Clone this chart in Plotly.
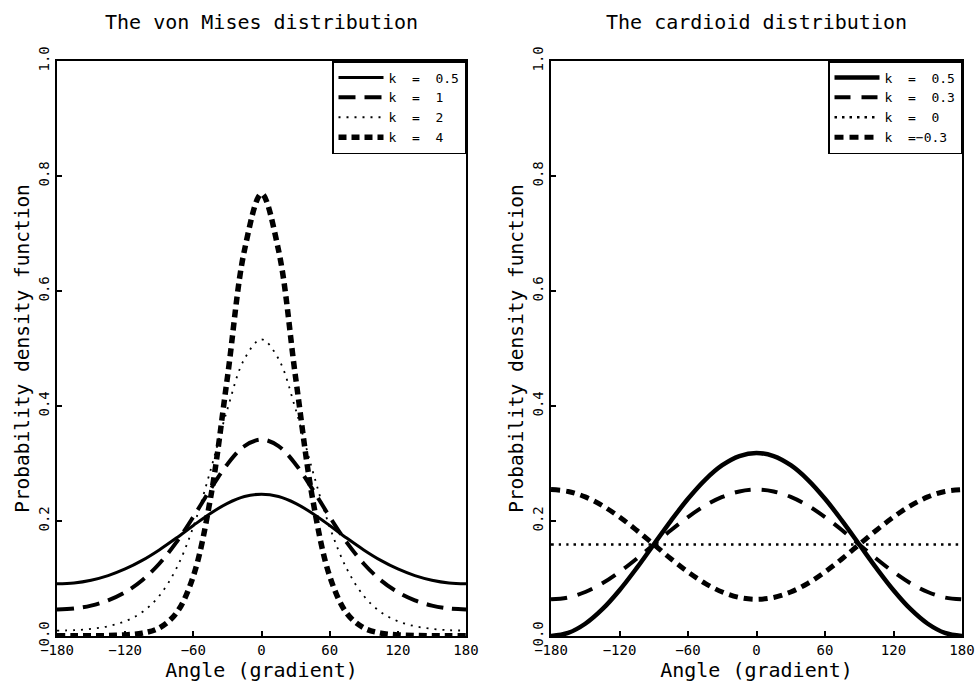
import plotly.graph_objects as go

angles = [-180, -165, -150, -135, -120, -105, -90, -75, -60, -45, -30, -15, 0,
          15, 30, 45, 60, 75, 90, 105, 120, 135, 150, 165, 180]

# von Mises densities
vm_k05 = [0.0908, 0.0923, 0.0971, 0.1051, 0.1166, 0.1315, 0.1497, 0.1703, 0.1922, 0.2131, 0.2307, 0.2426, 0.2467,
          0.2426, 0.2307, 0.2131, 0.1922, 0.1703, 0.1497, 0.1315, 0.1166, 0.1051, 0.0971, 0.0923, 0.0908]
vm_k1 = [0.0462, 0.0478, 0.0529, 0.0620, 0.0762, 0.0970, 0.1257, 0.1628, 0.2073, 0.2550, 0.2989, 0.3303, 0.3417,
         0.3303, 0.2989, 0.2550, 0.2073, 0.1628, 0.1257, 0.0970, 0.0762, 0.0620, 0.0529, 0.0478, 0.0462]
vm_k2 = [0.0094, 0.0101, 0.0124, 0.0170, 0.0257, 0.0416, 0.0698, 0.1172, 0.1898, 0.2872, 0.3946, 0.4819, 0.5159,
         0.4819, 0.3946, 0.2872, 0.1898, 0.1172, 0.0698, 0.0416, 0.0257, 0.0170, 0.0124, 0.0101, 0.0094]
vm_k4 = [0.0003, 0.0003, 0.0004, 0.0008, 0.0019, 0.0050, 0.0141, 0.0397, 0.1041, 0.2383, 0.4499, 0.6709, 0.7689,
         0.6709, 0.4499, 0.2383, 0.1041, 0.0397, 0.0141, 0.0050, 0.0019, 0.0008, 0.0004, 0.0003, 0.0003]

# cardioid densities
cd_k05 = [0.0000, 0.0054, 0.0213, 0.0466, 0.0796, 0.1180, 0.1592, 0.2003, 0.2387, 0.2717, 0.2970, 0.3129, 0.3183,
          0.3129, 0.2970, 0.2717, 0.2387, 0.2003, 0.1592, 0.1180, 0.0796, 0.0466, 0.0213, 0.0054, 0.0000]
cd_k03 = [0.0637, 0.0669, 0.0765, 0.0916, 0.1114, 0.1344, 0.1592, 0.1839, 0.2069, 0.2267, 0.2419, 0.2514, 0.2546,
          0.2514, 0.2419, 0.2267, 0.2069, 0.1839, 0.1592, 0.1344, 0.1114, 0.0916, 0.0765, 0.0669, 0.0637]
cd_k0 = [0.1592, 0.1592, 0.1592, 0.1592, 0.1592, 0.1592, 0.1592, 0.1592, 0.1592, 0.1592, 0.1592, 0.1592, 0.1592,
         0.1592, 0.1592, 0.1592, 0.1592, 0.1592, 0.1592, 0.1592, 0.1592, 0.1592, 0.1592, 0.1592, 0.1592]
cd_km03 = [0.2546, 0.2514, 0.2419, 0.2267, 0.2069, 0.1839, 0.1592, 0.1344, 0.1114, 0.0916, 0.0765, 0.0669, 0.0637,
           0.0669, 0.0765, 0.0916, 0.1114, 0.1344, 0.1592, 0.1839, 0.2069, 0.2267, 0.2419, 0.2514, 0.2546]

NB = "\u00a0"
vm_names = ["k = 0.5", "k = 1", "k = 2", "k = 4"]
cd_names = ["k = 0.5", "k = 0.3", "k = 0", "k =\u22120.3"]

x_ticks = [-180, -120, -60, 0, 60, 120, 180]
x_ticktext = ["\u2212180", "\u2212120", "\u221260", "0", "60", "120", "180"]
y_ticks = [0.0, 0.2, 0.4, 0.6, 0.8, 1.0]
y_ticktext = ["0.0", "0.2", "0.4", "0.6", "0.8", "1.0"]

FONT = "DejaVu Sans Mono"


def spaced(name):
    return name.replace(" ", NB + " ")


fig = go.Figure()

vm_styles = [dict(width=3, dash="solid"),
             dict(width=4, dash="17px,9px"),
             dict(width=1.8, dash="2px,6px"),
             dict(width=5.5, dash="8px,5px")]
for ys, nm, st in zip([vm_k05, vm_k1, vm_k2, vm_k4], vm_names, vm_styles):
    fig.add_trace(go.Scatter(x=angles, y=ys, name=spaced(nm), mode="lines",
                             line=dict(color="black", shape="spline", **st),
                             xaxis="x", yaxis="y", legend="legend"))

cd_styles = [dict(width=4.5, dash="solid"),
             dict(width=4, dash="16px,11px"),
             dict(width=2.5, dash="2.5px,5px"),
             dict(width=5, dash="9px,6px")]
for ys, nm, st in zip([cd_k05, cd_k03, cd_k0, cd_km03], cd_names, cd_styles):
    fig.add_trace(go.Scatter(x=angles, y=ys, name=spaced(nm), mode="lines",
                             line=dict(color="black", shape="spline", **st),
                             xaxis="x2", yaxis="y2", legend="legend2"))

L_DOM = [57 / 976, 466 / 976]
R_DOM = [551 / 976, 962 / 976]
Y_DOM = [(682 - 636) / 682, (682 - 61) / 682]

xcommon = dict(range=[-180, 180], tickvals=x_ticks, ticktext=x_ticktext,
               showline=True, mirror=True, linecolor="black", linewidth=2,
               ticks="inside", ticklen=5, tickcolor="black", tickwidth=1.5,
               showgrid=False, zeroline=False, automargin=False,
               ticklabeloverflow="allow",
               tickfont=dict(family=FONT, size=14, color="black"),
               title=dict(text="Angle (gradient)", font=dict(family=FONT, size=20, color="black"), standoff=10))
ycommon = dict(range=[0, 1.0], tickvals=y_ticks, ticktext=y_ticktext, tickangle=-90,
               showline=True, mirror=True, linecolor="black", linewidth=2,
               ticks="inside", ticklen=5, tickcolor="black", tickwidth=1.5,
               showgrid=False, zeroline=False, automargin=False,
               ticklabeloverflow="allow",
               tickfont=dict(family=FONT, size=14, color="black"),
               title=dict(text="Probability density function", font=dict(family=FONT, size=19.5, color="black"), standoff=2))

legend_common = dict(bgcolor="white", bordercolor="black", borderwidth=1.5,
                     font=dict(family=FONT, size=13, color="black"),
                     xanchor="right", yanchor="top", tracegroupgap=0, itemwidth=45)

fig.update_layout(
    width=976, height=682,
    margin=dict(l=0, r=0, t=0, b=0),
    paper_bgcolor="white", plot_bgcolor="white",
    font=dict(family=FONT, color="black"),
    xaxis=dict(domain=L_DOM, anchor="y", **xcommon),
    yaxis=dict(domain=Y_DOM, anchor="x", **ycommon),
    xaxis2=dict(domain=R_DOM, anchor="y2", **xcommon),
    yaxis2=dict(domain=Y_DOM, anchor="x2", **ycommon),
    legend=dict(x=L_DOM[1], y=Y_DOM[1], **legend_common),
    legend2=dict(x=R_DOM[1], y=Y_DOM[1], **legend_common),
    annotations=[
        dict(text="The von Mises distribution", x=sum(L_DOM) / 2, y=(682 - 22) / 682,
             xref="paper", yref="paper", showarrow=False, xanchor="center", yanchor="middle",
             font=dict(family=FONT, size=20, color="black")),
        dict(text="The cardioid distribution", x=sum(R_DOM) / 2, y=(682 - 22) / 682,
             xref="paper", yref="paper", showarrow=False, xanchor="center", yanchor="middle",
             font=dict(family=FONT, size=20, color="black")),
    ],
    showlegend=True,
)

fig.write_html("out.html")
